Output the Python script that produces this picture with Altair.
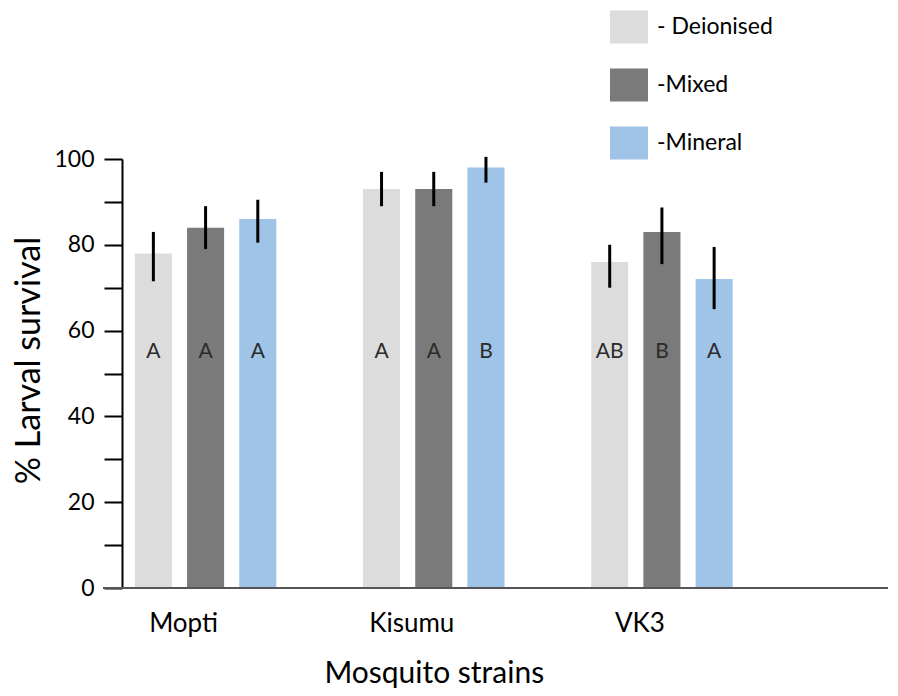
import altair as alt
import pandas as pd

strains = ["Mopti", "Kisumu", "VK3"]
treatments = ["Deionised", "Mixed", "Mineral"]
colors = ["#dcdcdc", "#7a7a7a", "#9fc4e8"]

# rows: strain, columns: treatment (Deionised, Mixed, Mineral)
survival = [
    [78, 84, 86],
    [93, 93, 98],
    [76, 83, 72],
]
err_low = [
    [71.5, 79, 80.5],
    [89, 89, 94.5],
    [70, 75.5, 65],
]
err_high = [
    [83, 89, 90.5],
    [97, 97, 100.5],
    [80, 88.7, 79.5],
]
letters = [
    ["A", "A", "A"],
    ["A", "A", "B"],
    ["AB", "B", "A"],
]

rows = []
for i, s in enumerate(strains):
    for j, t in enumerate(treatments):
        rows.append({
            "strain": s, "treatment": t,
            "survival": survival[i][j],
            "lo": err_low[i][j], "hi": err_high[i][j],
            "letter": letters[i][j],
        })
df = pd.DataFrame(rows)

FONT = "Lato"
W, H = 766, 429

x_enc = alt.X("strain:N", sort=strains,
              scale=alt.Scale(domain=strains, range=[-30.5, 654], paddingInner=0, paddingOuter=0),
              axis=alt.Axis(title="Mosquito strains", labelAngle=0, domain=False, ticks=False,
                            labelFontSize=26, labelFont=FONT, labelColor="#000",
                            labelPadding=22, labelOffset=-22,
                            titleFontSize=30, titleFont=FONT, titleFontWeight="normal",
                            titleColor="#000", titlePadding=22))
xo_enc = alt.XOffset("treatment:N", sort=treatments,
                     scale=alt.Scale(domain=treatments, paddingInner=0.29, paddingOuter=0.83))

y_scale = alt.Scale(domain=[0, 100], nice=False)

base = alt.Chart(df)

bars = base.mark_bar().encode(
    x=x_enc,
    xOffset=xo_enc,
    y=alt.Y("survival:Q", scale=y_scale,
            axis=alt.Axis(title="% Larval survival", values=list(range(0, 101, 10)),
                          labelExpr="datum.value % 20 == 0 ? datum.label : ''",
                          grid=False, tickSize=18, tickColor="#000", tickWidth=2,
                          domainColor="#000", domainWidth=2,
                          labelFontSize=23, labelFont=FONT, labelColor="#000", labelPadding=10,
                          titleFontSize=34, titleFont=FONT, titleFontWeight="normal",
                          titleColor="#000", titleX=-76, titleY=201, titleAngle=270)),
    color=alt.Color("treatment:N", sort=treatments,
                    scale=alt.Scale(domain=treatments, range=colors),
                    legend=alt.Legend(title=None, orient="none", legendX=488, legendY=-151,
                                      symbolType="M-1,-0.87L1,-0.87L1,0.87L-1,0.87Z",
                                      symbolSize=1444,
                                      symbolStrokeWidth=0, rowPadding=22,
                                      labelFontSize=23, labelFont=FONT, labelColor="#000",
                                      labelOffset=9,
                                      labelExpr="datum.label == 'Deionised' ? '- ' + datum.label : '-' + datum.label")),
)

errs = base.mark_rule(color="#000", strokeWidth=3).encode(
    x=alt.X("strain:N", sort=strains),
    xOffset=alt.XOffset("treatment:N", sort=treatments),
    y=alt.Y("lo:Q"),
    y2="hi:Q",
)

texts = base.mark_text(fontSize=21, font=FONT, color="#2a2a2a").encode(
    x=alt.X("strain:N", sort=strains),
    xOffset=alt.XOffset("treatment:N", sort=treatments),
    y=alt.datum(55),
    text="letter:N",
)

xline = alt.Chart(df).mark_rule(color="#555", strokeWidth=2).encode(
    x=alt.value(-19), x2=alt.value(W), y=alt.value(H),
)

chart = alt.layer(bars, errs, texts, xline).properties(
    width=W, height=H,
    padding={"left": 114, "top": 151, "right": 2, "bottom": 100},
    autosize=alt.AutoSizeParams(type="none"),
).configure_view(stroke=None).configure_axis(
    labelFont=FONT, titleFont=FONT
)

chart.save("out.html", embed_options={"renderer": "svg", "actions": False})
